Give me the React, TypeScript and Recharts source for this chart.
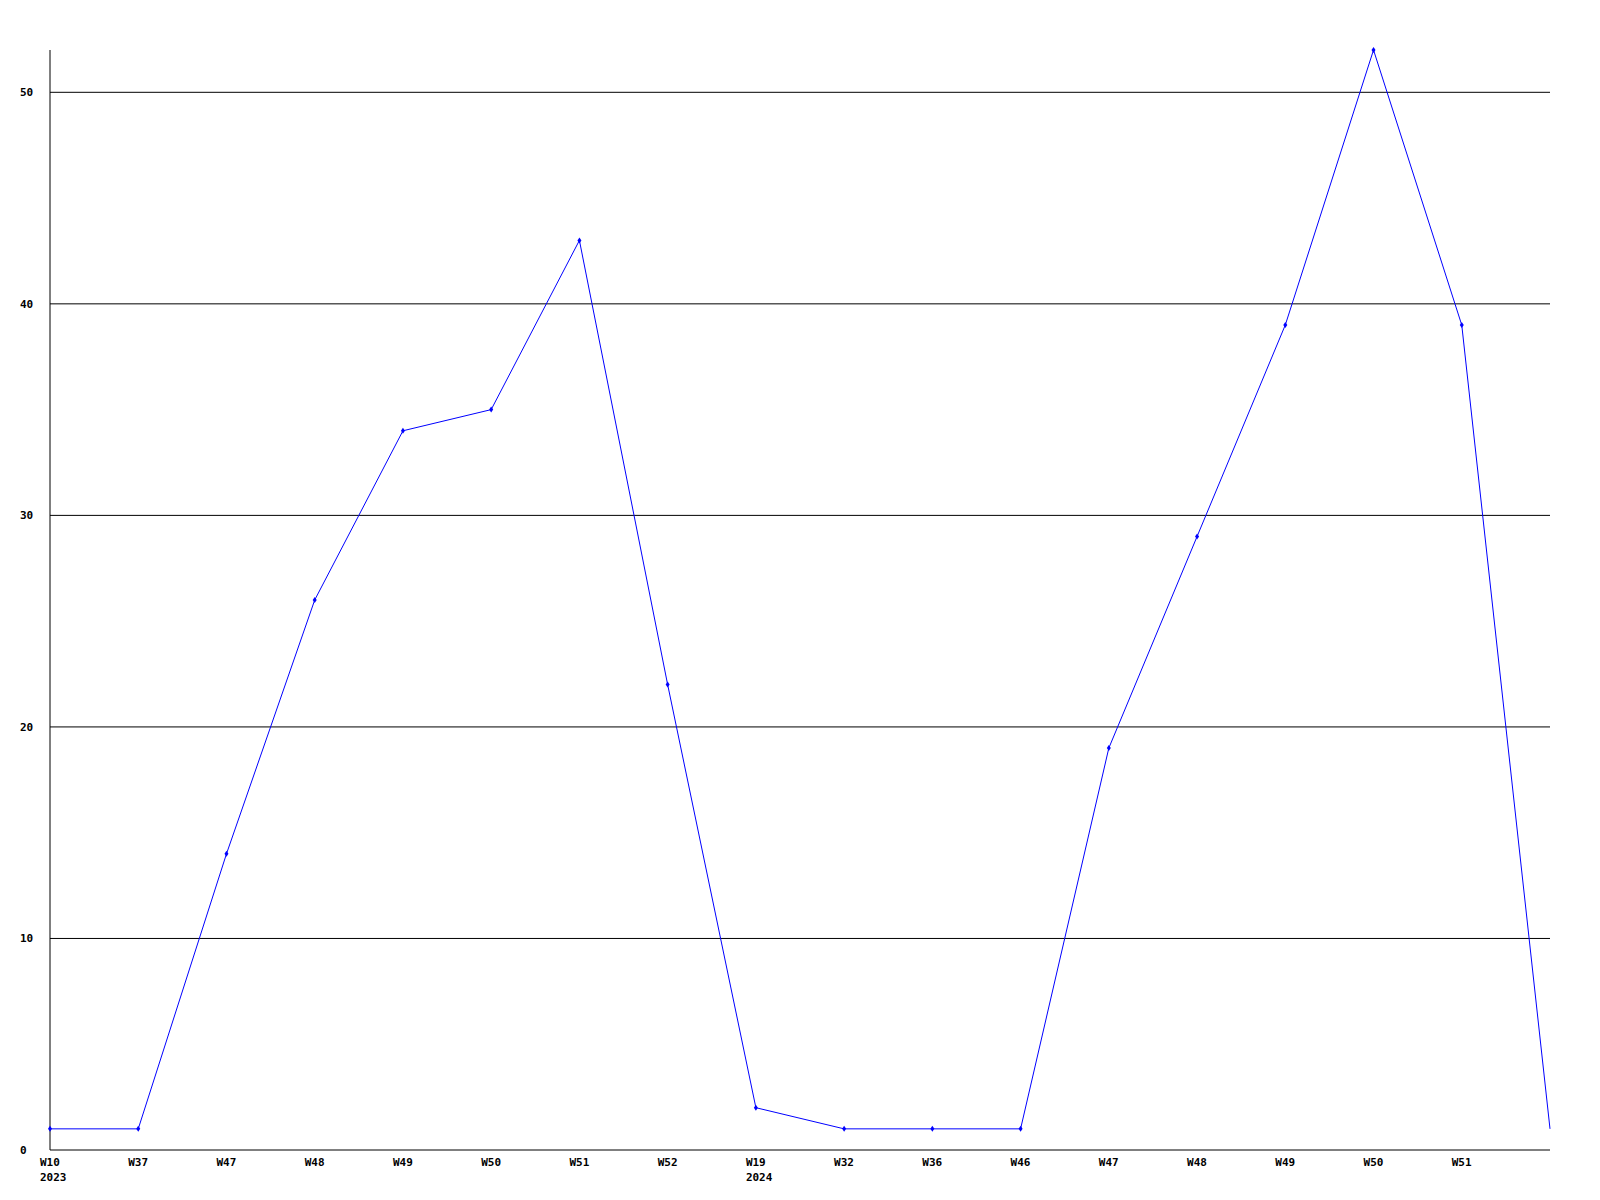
import React from 'react';
import { LineChart, Line, XAxis, YAxis, CartesianGrid } from 'recharts';

// weekly counts, 2023 W10 .. 2024 W52
const weeks = ['W10', 'W37', 'W47', 'W48', 'W49', 'W50', 'W51', 'W52', 'W19', 'W32', 'W36', 'W46', 'W47', 'W48', 'W49', 'W50', 'W51', ''];
const years = ['2023', '', '', '', '', '', '', '', '2024', '', '', '', '', '', '', '', '', ''];
const counts = [1, 1, 14, 26, 34, 35, 43, 22, 2, 1, 1, 1, 19, 29, 39, 52, 39, 1];
const yTicks = [0, 10, 20, 30, 40, 50];

const data = counts.map((v, i) => ({ key: i, week: weeks[i], year: years[i], value: v }));

const FONT = '"DejaVu Sans Mono", "Liberation Mono", monospace';

const WeekTick = (props: any) => {
  const { x, y, payload } = props;
  const i = payload.index;
  return (
    <g>
      <text x={x - 10} y={y} dy={8} textAnchor="start" fontFamily={FONT} fontSize={11} fontWeight="bold" fill="#000">
        {weeks[i]}
      </text>
      {years[i] && (
        <text x={x - 10} y={y} dy={23} textAnchor="start" fontFamily={FONT} fontSize={11} fontWeight="bold" fill="#000">
          {years[i]}
        </text>
      )}
    </g>
  );
};

const ValueTick = (props: any) => {
  const { x, y, payload } = props;
  return (
    <text x={x - 22} y={y} dy={4} textAnchor="start" fontFamily={FONT} fontSize={11} fontWeight="bold" fill="#000">
      {payload.value}
    </text>
  );
};

// last point (current week) has no marker in the original
const Marker = (props: any) => {
  const { cx, cy, index } = props;
  if (cx == null || cy == null || index === counts.length - 1) return null;
  return <path d={`M${cx},${cy - 3}L${cx + 2},${cy}L${cx},${cy + 3}L${cx - 2},${cy}Z`} fill="#0000ff" />;
};

export default function App() {
  return (
    <div style={{ position: 'absolute', left: 0, top: 0, width: 1600, height: 1200, background: '#fff' }}>
      <LineChart width={1600} height={1200} data={data} margin={{ top: 50, right: 50, left: 0, bottom: 0 }}>
        <CartesianGrid vertical={false} horizontalValues={yTicks.slice(1)} stroke="#000" strokeWidth={1} />
        <XAxis
          dataKey="key"
          type="category"
          height={50}
          tick={<WeekTick />}
          tickLine={false}
          axisLine={{ stroke: '#000', strokeWidth: 1 }}
          interval={0}
        />
        <YAxis
          width={50}
          domain={[0, 52]}
          ticks={yTicks}
          tick={<ValueTick />}
          tickLine={false}
          axisLine={{ stroke: '#000', strokeWidth: 1 }}
        />
        <Line
          type="linear"
          dataKey="value"
          stroke="#0000ff"
          strokeWidth={1}
          dot={<Marker />}
          activeDot={false}
          isAnimationActive={false}
        />
      </LineChart>
    </div>
  );
}
